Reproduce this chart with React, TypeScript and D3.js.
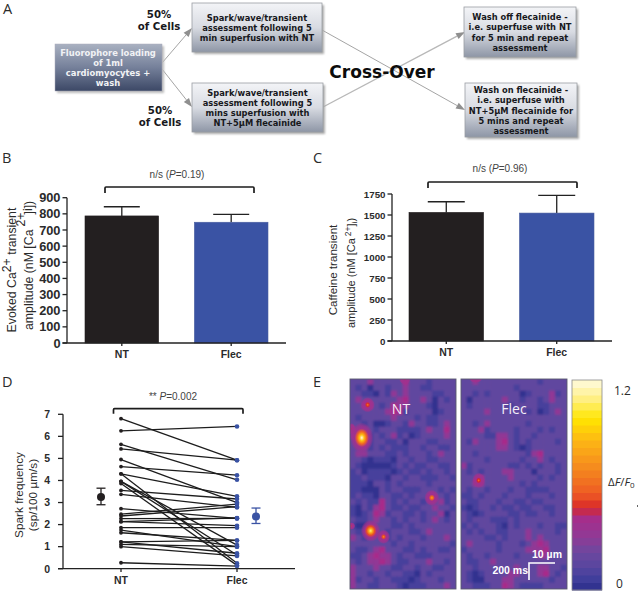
import React from "react";
import * as d3 from "d3";

// ---------- data ----------
const categories = ["NT", "Flec"];
const bMeans = [787, 748];
const bTops = [844, 797];
const bTicks = [0, 100, 200, 300, 400, 500, 600, 700, 800, 900];
const cMeans = [1531, 1523];
const cTops = [1658, 1734];
const cTicks = [0, 250, 500, 750, 1000, 1250, 1500, 1750];
const dTicks = [0, 1, 2, 3, 4, 5, 6, 7];
const ntSparks = [6.8, 6.25, 5.64, 5.43, 4.95, 4.63, 4.3, 4.3, 3.96, 3.96, 3.86, 3.55, 3.37, 2.72, 2.47, 2.39, 2.27, 2.13, 2.13, 1.86, 1.75, 1.63, 1.22, 1.22, 1.1, 1.0, 0.27];
const flecSparks = [4.92, 6.45, 4.03, 4.92, 3.0, 4.24, 3.28, 0.25, 0.62, 1.07, 0.15, 3.16, 2.78, 2.28, 2.93, 2.81, 2.28, 2.3, 1.95, 1.86, 1.0, 1.28, 1.28, 0.7, 1.0, 0.58, 0.12];
const dMeans = [3.25, 2.37];
const dErrHigh = [3.65, 2.75];
const dErrLow = [2.9, 2.05];

const ntGrid = [
  "333433333533323333", "323133233433223333", "332213243433332233", "343333334533431323", "334432354433321333",
  "333333455233331233", "323333343332322333", "332311233243322343", "433323332222343353", "433232342312333343",
  "333233223133322333", "333232322233233223", "344333223233323433", "332122213323322333", "321111123232233223",
  "231222212322323323", "223222133233222332", "222133232333323333", "221113233222333232", "232213322323333323",
  "323225323233233423", "213245322322334332", "212354233223233413", "322343323233234323", "211233322323333333",
  "322333233322343333", "432333232333233343", "333333323323333332", "322345333223233223", "223454432332223333",
  "323445432233343323", "433343322332332233", "433233233221323333", "423323322212333233", "433223332122233343",
];
const flecGrid = [
  "334333333333323333", "333333333233333333", "332323333312333423", "313333343323323433", "323333332333322333",
  "333343333332312343", "333333333333333333", "332343333332333333", "333423333233323233", "333322443233233333",
  "324333453232333323", "333333443212333333", "332333333332453333", "333323333323343233", "423333332232323323",
  "323233344333133323", "333433334333323233", "334433333323233333", "323323332332222333", "223233323332333233",
  "322333233223223333", "212332322322332233", "321233332232233233", "323332223233333333", "232333213233323322",
  "323233223334333323", "333322323334343333", "343333233323454333", "233333233334445333", "323323333233344333",
  "322334333333333333", "332333333433344332", "321233334433345323", "321133344333333233", "332223354322223333",
];
// hot spots, in grid-cell units: column, row, radius X, radius Y, peak (dF/F0)
const ntSpots = [
  [3.0, 4.3, 0.75, 0.8, 0.66], [0.3, 8.3, 0.4, 0.6, 0.44], [2.0, 9.8, 1.25, 1.6, 1.2], [9.3, 0.1, 0.6, 0.5, 0.44],
  [13.9, 19.8, 0.8, 0.85, 0.78], [3.5, 25.3, 1.05, 1.15, 1.08], [5.7, 26.3, 0.7, 0.75, 0.72], [0.25, 24.5, 0.4, 0.4, 0.5],
];
const flecSpots = [[3.0, 16.9, 0.7, 0.8, 0.64], [2.5, 0.0, 0.7, 0.4, 0.4]];
const flowLabels = {
  start: ["Fluorophore loading", "of 1ml", "cardiomyocytes +", "wash"],
  top: ["Spark/wave/transient", "assessment following 5", "min superfusion with NT"],
  bottom: ["Spark/wave/transient", "assessment following 5", "mins superfusion with", "NT+5μM flecainide"],
  off: ["Wash off flecainide -", "i.e. superfuse with NT", "for 5 min and repeat", "assessment"],
  on: ["Wash on flecainide -", "i.e. superfuse with", "NT+5μM flecainide for", "5 mins and repeat", "assessment"],
};

// ---------- helpers ----------
const sans = "'Liberation Sans', Arial, sans-serif";
const flowFont = "'DejaVu Sans', Verdana, sans-serif";
const calibri = "'Open Sans', 'Noto Sans', sans-serif";
const ink = "#2b2b2b";
const blue = "#3a53a4";

const heat = d3
  .scaleLinear<string>()
  .domain([0, 0.05, 0.12, 0.22, 0.3, 0.42, 0.45, 0.47, 0.55, 0.7, 0.85, 0.98, 1.1, 1.2])
  .range(["#2c2c88", "#3b3c9a", "#54459f", "#6e489f", "#8f3a96", "#a82c8a", "#c42a50", "#d8262a", "#ee5a24", "#f58a1e", "#fdb515", "#ffe600", "#fff08a", "#fffbe0"]);
const digitValue = d3.scaleLinear().domain([0, 1, 2, 3, 4, 5]).range([0, 0.02, 0.08, 0.17, 0.31, 0.42]);

const flowBoxes = [
  { x: 192, y: 3, w: 130, h: 49, lines: flowLabels.top, fs: 8.3 },
  { x: 192, y: 83, w: 131, h: 49, lines: flowLabels.bottom, fs: 8.3 },
  { x: 464, y: 7, w: 112, h: 50, lines: flowLabels.off, fs: 8.3 },
  { x: 465, y: 83, w: 112, h: 54, lines: flowLabels.on, fs: 8.3 },
];

function Flow() {
  return (
    <g>
      <text x={3} y={14} fontFamily={calibri} fontSize={14.5} fill={ink}>A</text>
      {[[162, 63, 192, 28], [162, 69, 192, 107], [322, 30, 465, 110], [323, 107, 465, 32]].map((l, i) => {
        const ang = Math.atan2(l[3] - l[1], l[2] - l[0]);
        const hx = l[2] - 9 * Math.cos(ang);
        const hy = l[3] - 9 * Math.sin(ang);
        const nx = -Math.sin(ang) * 3.3;
        const ny = Math.cos(ang) * 3.3;
        const width = i === 3 ? 1.4 : 0.9;
        const col = i === 3 ? "#b8b8b8" : "#9a9a9a";
        return (
          <g key={i}>
            <line x1={l[0]} y1={l[1]} x2={hx} y2={hy} stroke={col} strokeWidth={width} />
            <polygon points={`${l[2]},${l[3]} ${hx + nx},${hy + ny} ${hx - nx},${hy - ny}`} fill="#8f8f8f" />
          </g>
        );
      })}
      <rect x={57} y={46} width={107} height={47} fill="#bbb" filter="url(#soft)" />
      <rect x={55} y={44} width={107} height={47} fill="url(#dark)" stroke="#aab" strokeWidth={0.5} />
      {flowLabels.start.map((t, i) => (
        <text key={t} x={108} y={55.5 + i * 10.3} textAnchor="middle" fontFamily={flowFont} fontWeight={700} fontSize={8.4} fill="#f1f2f5">{t}</text>
      ))}
      {flowBoxes.map((b) => {
        const y0 = b.y + b.h / 2 - ((b.lines.length - 1) * 10.3) / 2 + 3.5;
        return (
          <g key={b.x + "-" + b.y}>
            <rect x={b.x + 2} y={b.y + 2} width={b.w} height={b.h} fill="#aaa" filter="url(#soft)" />
            <rect x={b.x} y={b.y} width={b.w} height={b.h} fill="url(#light)" stroke="#9a9da3" strokeWidth={0.8} />
            {b.lines.map((t, i) => (
              <text key={t} x={b.x + b.w / 2} y={y0 + i * 10.3} textAnchor="middle" fontFamily={flowFont} fontWeight={700} fontSize={b.fs} fill="#17181c">{t}</text>
            ))}
          </g>
        );
      })}
      <text x={159} y={17.5} textAnchor="middle" fontFamily={flowFont} fontWeight={700} fontSize={10.2} fill="#17181c">50%</text>
      <text x={159} y={29.5} textAnchor="middle" fontFamily={flowFont} fontWeight={700} fontSize={10.2} fill="#17181c">of Cells</text>
      <text x={160} y={114} textAnchor="middle" fontFamily={flowFont} fontWeight={700} fontSize={10.2} fill="#17181c">50%</text>
      <text x={160} y={126} textAnchor="middle" fontFamily={flowFont} fontWeight={700} fontSize={10.2} fill="#17181c">of Cells</text>
      <text x={382} y={78} textAnchor="middle" fontFamily={flowFont} fontWeight={700} fontSize={17} fill="#0c0c0c">Cross-Over</text>
    </g>
  );
}

function Bracket({ x1, x2, y, drop }: { x1: number; x2: number; y: number; drop: number }) {
  return <path d={`M${x1},${y + drop}V${y + 1}Q${x1},${y} ${x1 + 1},${y}H${x2 - 1}Q${x2},${y} ${x2},${y + 1}V${y + drop}`} fill="none" stroke="#1c1c1c" strokeWidth={1.7} />;
}

function PValue({ x, y, pre, val }: { x: number; y: number; pre: string; val: string }) {
  return (
    <text x={x} y={y} textAnchor="middle" fontFamily={sans} fontSize={10} fill="#444">
      {pre}<tspan fontStyle="italic">P</tspan>{val}
    </text>
  );
}

function BarPanel({ means, tops, ticks, yMax, axisX, axisEnd, y0, yTop, bandStart, bandEnd, barPad, tickFs, capW, labelY }: any) {
  const y = d3.scaleLinear().domain([0, yMax]).range([y0, yTop]);
  const x = d3.scaleBand<string>().domain(categories).range([bandStart, bandEnd]).paddingInner(barPad);
  return (
    <g>
      {categories.map((c, i) => {
        const xc = x(c)! + x.bandwidth() / 2;
        return (
          <g key={c}>
            <line x1={xc} x2={xc} y1={y(means[i])} y2={y(tops[i])} stroke="#222" strokeWidth={1.3} />
            <line x1={xc - capW} x2={xc + capW} y1={y(tops[i])} y2={y(tops[i])} stroke="#222" strokeWidth={1.3} />
            <rect x={x(c)} y={y(means[i])} width={x.bandwidth()} height={y0 - y(means[i])} fill={i === 0 ? "#231f20" : blue} stroke={i === 0 ? "#231f20" : "#4a5f9f"} strokeWidth={0.6} />
            <line x1={xc} x2={xc} y1={y0} y2={y0 + 3} stroke="#222" strokeWidth={1.3} />
            <text x={xc} y={labelY} textAnchor="middle" fontFamily={sans} fontWeight={700} fontSize={10.5} fill={ink}>{c}</text>
          </g>
        );
      })}
      <line x1={axisX} x2={axisX} y1={yTop} y2={y0} stroke="#222" strokeWidth={1.3} />
      <line x1={axisX - 4.5} x2={axisEnd} y1={y0} y2={y0} stroke="#222" strokeWidth={1.3} />
      {ticks.map((t: number) => (
        <g key={t}>
          <line x1={axisX - 4.5} x2={axisX} y1={y(t)} y2={y(t)} stroke="#222" strokeWidth={1.3} />
          <text x={axisX - 6.5} y={y(t) + tickFs * 0.36} textAnchor="end" fontFamily={sans} fontWeight={700} fontSize={tickFs} fill={ink}>{t}</text>
        </g>
      ))}
    </g>
  );
}

function PanelD() {
  const y = d3.scaleLinear().domain([0, 7]).range([568.7, 414.3]);
  const x = d3.scalePoint<string>().domain(categories).range([121, 237]);
  const meanX = [101, 256];
  return (
    <g>
      <line x1={63} x2={63} y1={414.3} y2={568.7} stroke="#222" strokeWidth={1.3} />
      <line x1={58} x2={295} y1={568.7} y2={568.7} stroke="#222" strokeWidth={1.3} />
      {dTicks.map((t) => (
        <g key={t}>
          <line x1={58} x2={63} y1={y(t)} y2={y(t)} stroke="#222" strokeWidth={1.3} />
          <text x={50} y={y(t) + 3.8} textAnchor="end" fontFamily={sans} fontWeight={700} fontSize={10.5} fill={ink}>{t}</text>
        </g>
      ))}
      {categories.map((c) => (
        <g key={c}>
          <line x1={x(c)} x2={x(c)} y1={568.7} y2={572} stroke="#222" strokeWidth={1.3} />
          <text x={x(c)!} y={584} textAnchor="middle" fontFamily={sans} fontWeight={700} fontSize={10.5} fill={ink}>{c}</text>
        </g>
      ))}
      {ntSparks.map((v, i) => (
        <g key={i}>
          <line x1={x("NT")} x2={x("Flec")} y1={y(v)} y2={y(flecSparks[i])} stroke="#1d1d1d" strokeWidth={1.3} />
          <circle cx={x("NT")} cy={y(v)} r={1.9} fill="#231f20" />
          <circle cx={x("Flec")} cy={y(flecSparks[i])} r={2.3} fill={blue} />
        </g>
      ))}
      {dMeans.map((m, i) => {
        const c = i === 0 ? "#231f20" : blue;
        return (
          <g key={i} stroke={c} strokeWidth={1.3}>
            <line x1={meanX[i]} x2={meanX[i]} y1={y(dErrLow[i])} y2={y(dErrHigh[i])} />
            <line x1={meanX[i] - 4.5} x2={meanX[i] + 4.5} y1={y(dErrLow[i])} y2={y(dErrLow[i])} />
            <line x1={meanX[i] - 4.5} x2={meanX[i] + 4.5} y1={y(dErrHigh[i])} y2={y(dErrHigh[i])} />
            <circle cx={meanX[i]} cy={y(m)} r={4} fill={c} stroke="none" />
          </g>
        );
      })}
    </g>
  );
}

function HeatPanel({ grid, spots, x0, id }: { grid: string[]; spots: number[][]; x0: number; id: string }) {
  const w = 106;
  const h = 210;
  const top = 379;
  const col = d3.scaleLinear().domain([0, 18]).range([x0, x0 + w]);
  const row = d3.scaleLinear().domain([0, 35]).range([top, top + h]);
  return (
    <g>
      <clipPath id={id}><rect x={x0} y={top} width={w} height={h} /></clipPath>
      <g clipPath={`url(#${id})`}>
        <rect x={x0} y={top} width={w} height={h} fill={heat(0.17)} />
        <g filter="url(#noise)">
          {grid.flatMap((r, ri) =>
            r.split("").map((d, ci) => (
              <rect key={ri + "-" + ci} x={col(ci) - 0.3} y={row(ri) - 0.3} width={col(1) - col(0) + 0.6} height={row(1) - row(0) + 0.6} fill={heat(digitValue(+d))} />
            ))
          )}
        </g>
        {spots.map((s, i) => {
          const g = "spot" + Math.round(s[4] * 100);
          return <ellipse key={i} cx={col(s[0])} cy={row(s[1])} rx={(col(1) - col(0)) * s[2] * 1.6} ry={(row(1) - row(0)) * s[3] * 1.6} fill={`url(#${g})`} />;
        })}
      </g>
      <rect x={x0} y={top} width={w} height={h} fill="none" stroke="#5a5a6e" strokeWidth={0.9} />
    </g>
  );
}

const spotPeaks = Array.from(new Set([...ntSpots, ...flecSpots].map((s) => s[4])));
const barBands = d3.range(28);

export default function App() {
  const cbY = d3.scaleBand<number>().domain(barBands).range([590, 380]);
  return (
    <svg width={640} height={592} viewBox="0 0 640 592" style={{ position: "absolute", left: 0, top: 0, display: "block", background: "#fff" }}>
      <defs>
        <linearGradient id="light" x1="0" y1="0" x2="0" y2="1">
          <stop offset="0" stopColor="#f3f4f7" />
          <stop offset="0.5" stopColor="#d8dbe2" />
          <stop offset="1" stopColor="#8e96a6" />
        </linearGradient>
        <linearGradient id="dark" x1="0" y1="0" x2="0" y2="1">
          <stop offset="0" stopColor="#a9b1c1" />
          <stop offset="0.5" stopColor="#75809a" />
          <stop offset="1" stopColor="#3c4866" />
        </linearGradient>
        <filter id="soft" x="-10%" y="-10%" width="120%" height="120%"><feGaussianBlur stdDeviation="1" /></filter>
        <filter id="noise" x="0" y="0" width="100%" height="100%"><feGaussianBlur stdDeviation="1.3" /></filter>
        {spotPeaks.map((p) => (
          <radialGradient key={p} id={"spot" + Math.round(p * 100)}>
            {[0, 0.2, 0.4, 0.6, 0.8, 1].map((o) => (
              <stop key={o} offset={o} stopColor={heat(Math.max(0.38, p * Math.pow(1 - o, 1.4)))} stopOpacity={o === 1 ? 0 : o === 0.8 ? 0.7 : 1} />
            ))}
          </radialGradient>
        ))}
      </defs>

      <Flow />

      <text x={2} y={163} fontFamily={calibri} fontSize={14.5} fill={ink}>B</text>
      <PValue x={177} y={178} pre="n/s (" val="=0.19)" />
      <Bracket x1={105} x2={254} y={187} drop={6} />
      <BarPanel means={bMeans} tops={bTops} ticks={bTicks} yMax={900} axisX={67} axisEnd={286} y0={343} yTop={197.7} bandStart={85} bandEnd={268} barPad={0.327} tickFs={12.8} capW={18} labelY={358} />
      <text transform="translate(16,270) rotate(-90)" textAnchor="middle" fontFamily={sans} fontSize={12.3} fill={ink}>Evoked Ca<tspan dy={-5}>2+</tspan><tspan dy={5}> transient</tspan></text>
      <text transform="translate(33,330) rotate(-90)" fontFamily={sans} fontSize={12.3} fill={ink}>amplitude (nM [Ca<tspan dy={-8} dx={3}>2+</tspan><tspan dy={8} dx={-2}>]</tspan><tspan dy={-1}>i</tspan><tspan dy={1}>])</tspan></text>

      <text x={313} y={163} fontFamily={calibri} fontSize={14.5} fill={ink}>C</text>
      <PValue x={500} y={172} pre="n/s (" val="=0.96)" />
      <Bracket x1={428} x2={577} y={182} drop={6} />
      <BarPanel means={cMeans} tops={cTops} ticks={cTicks} yMax={1750} axisX={392} axisEnd={612} y0={341} yTop={194} bandStart={409} bandEnd={594} barPad={0.325} tickFs={9.75} capW={18.5} labelY={356} />
      <text transform="translate(337,270) rotate(-90)" textAnchor="middle" fontFamily={sans} fontSize={11.6} fill={ink}>Caffeine transient</text>
      <text transform="translate(355,328) rotate(-90)" fontFamily={sans} fontSize={11} fill={ink}>amplitude (nM [Ca<tspan dy={-4} dx={2} fontSize={8.5}>2+</tspan><tspan dy={4}>]</tspan><tspan dy={2} fontSize={8}>i</tspan><tspan dy={-2}>)</tspan></text>

      <text x={2} y={387} fontFamily={calibri} fontSize={14.5} fill={ink}>D</text>
      <PValue x={173} y={400} pre="** " val="=0.002" />
      <Bracket x1={113.5} x2={243} y={408.7} drop={5} />
      <PanelD />
      <text transform="translate(23,495) rotate(-90)" textAnchor="middle" fontFamily={sans} fontSize={11.8} fill={ink}>Spark frequency</text>
      <text transform="translate(37,495) rotate(-90)" textAnchor="middle" fontFamily={sans} fontSize={11.8} fill={ink}>(sp/100 µm/s)</text>

      <text x={313} y={387} fontFamily={calibri} fontSize={14.5} fill={ink}>E</text>
      <HeatPanel grid={ntGrid} spots={ntSpots} x0={350} id="clipNT" />
      <HeatPanel grid={flecGrid} spots={flecSpots} x0={461} id="clipFlec" />
      <text x={401} y={414} textAnchor="middle" fontFamily={calibri} fontSize={14} fill="#f4eef8">NT</text>
      <text x={514} y={414} textAnchor="middle" fontFamily={calibri} fontSize={14} fill="#f4eef8">Flec</text>

      <path d="M555,563H529V580" fill="none" stroke="#fff" strokeWidth={1.6} />
      <text x={547} y={558} textAnchor="middle" fontFamily={sans} fontWeight={700} fontSize={10.5} fill="#fff">10 µm</text>
      <text x={528} y={574} textAnchor="end" fontFamily={sans} fontWeight={700} fontSize={10.5} fill="#fff">200 ms</text>

      {barBands.map((b) => (
        <rect key={b} x={572} y={cbY(b)} width={30} height={cbY.bandwidth() + 0.5} fill={heat((b + 0.5) / 28 * 1.2)} />
      ))}
      <rect x={572} y={380} width={30} height={210} fill="none" stroke="#8a8a8a" strokeWidth={0.8} />
      <text x={614} y={394.5} fontFamily={calibri} fontSize={12} fill={ink}>1.2</text>
      <text x={616} y={588} fontFamily={calibri} fontSize={12} fill={ink}>0</text>
      <text x={608} y={486} fontFamily={calibri} fontSize={11.5} fill={ink}>Δ<tspan fontStyle="italic">F</tspan>/<tspan fontStyle="italic">F</tspan><tspan fontSize={8} dy={2}>0</tspan></text>
      <rect x={637} y={505} width={1} height={2} fill="#666" />
    </svg>
  );
}
